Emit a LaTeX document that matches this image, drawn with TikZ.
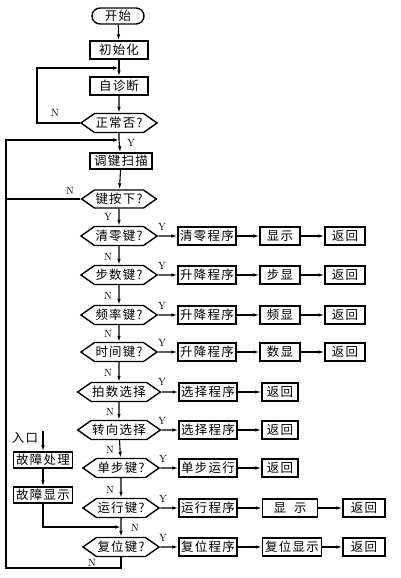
\documentclass[tikz,border=0pt]{standalone}
\usepackage{fontspec}
\newfontfamily\cjk[LetterSpace=10]{Noto Sans CJK SC}
\usetikzlibrary{shapes.symbols,shapes.misc,arrows.meta}

\tikzset{
  >={Latex[length=6bp,width=3.5bp]},
  line/.style={line width=1.1bp},
  box/.style={draw,line width=1.4bp,minimum width=58bp,minimum height=18bp,inner sep=1bp,
    font=\cjk\fontsize{12.5}{12.5}\selectfont},
  ask/.style={box,signal,signal to=west and east,signal pointer angle=70,
    minimum width=73bp,minimum height=19bp},
  term/.style={box,rounded rectangle,minimum width=54bp,minimum height=16bp},
  yn/.style={font=\fontsize{10.5}{10.5}\selectfont,inner sep=0pt},
  word/.style={font=\cjk\fontsize{12.5}{12.5}\selectfont,inner sep=0pt}
}

\begin{document}
\begin{tikzpicture}[x=1bp,y=-1bp]
  \useasboundingbox (0,0) rectangle (400,578);

  % main column
  \node[term] (start) at (118,16) {开始};
  \node[box] (init) at (119,50) {初始化};
  \coordinate (j1) at (119,68);
  \coordinate (nl) at (37,68);
  \node[box] (diag) at (119,86) {自诊断};
  \node[ask] (ok) at (119,123) {正常否?};
  \coordinate (j2) at (119,140);
  \coordinate (bt) at (6,140);
  \coordinate (bb) at (6,568);
  \node[box,minimum width=62bp,minimum height=16bp] (scan) at (121,161) {调键扫描};
  \node[ask,minimum height=18bp] (press) at (119,199) {键按下?};

  \node[ask] (kclr) at (119,236) {清零键?};
  \node[ask] (kstp) at (119,275) {步数键?};
  \node[ask] (kfrq) at (119,315) {频率键?};
  \node[ask] (ktim) at (119,352) {时间键?};
  \node[ask,minimum width=76bp] (kbeat) at (119,392) {拍数选择};
  \node[ask,minimum width=76bp] (kdir) at (119,430) {转向选择};
  \node[ask,minimum width=71bp] (ksgl) at (121,468) {单步键?};
  \node[ask,minimum width=71bp] (krun) at (121,508) {运行键?};
  \node[ask,minimum width=71bp] (krst) at (121,547) {复位键?};
  \coordinate (j3) at (121,527);

  % right columns
  \node[box] (pclr) at (207,236) {清零程序};
  \node[box,minimum width=40bp] (dclr) at (280,236) {显示};
  \node[box,minimum width=40bp] (rclr) at (345,236) {返回};
  \node[box] (pstp) at (207,275) {升降程序};
  \node[box,minimum width=40bp] (dstp) at (280,275) {步显};
  \node[box,minimum width=40bp] (rstp) at (345,275) {返回};
  \node[box] (pfrq) at (207,315) {升降程序};
  \node[box,minimum width=40bp] (dfrq) at (280,315) {频显};
  \node[box,minimum width=40bp] (rfrq) at (345,315) {返回};
  \node[box] (ptim) at (207,352) {升降程序};
  \node[box,minimum width=40bp] (dtim) at (280,352) {数显};
  \node[box,minimum width=40bp] (rtim) at (345,352) {返回};
  \node[box] (pbeat) at (208,392) {选择程序};
  \node[box,minimum width=36bp] (rbeat) at (280,392) {返回};
  \node[box] (pdir) at (208,430) {选择程序};
  \node[box,minimum width=36bp] (rdir) at (280,430) {返回};
  \node[box] (psgl) at (208,468) {单步运行};
  \node[box,minimum width=36bp] (rsgl) at (280,468) {返回};
  \node[box] (prun) at (208,508) {运行程序};
  \node[box,minimum width=55bp] (drun) at (290,508) {显\hspace{8bp}示};
  \node[box,minimum width=42bp] (rrun) at (364,508) {返回};
  \node[box] (prst) at (208,547) {复位程序};
  \node[box,minimum width=59bp] (drst) at (292,547) {复位显示};
  \node[box,minimum width=42bp] (rrst) at (364,547) {返回};

  % fault entry
  \node[word] (entry) at (25,438) {入口};
  \coordinate (ein) at (43,431);
  \node[box,minimum width=59bp,minimum height=16bp] (fproc) at (43,460) {故障处理};
  \node[box,minimum width=59bp,minimum height=16bp] (fdisp) at (43,495) {故障显示};

  % connectors
  \draw[line,->] (start) -- (init);
  \draw[line] (init) -- (j1);
  \draw[line,->] (j1) -- (diag);
  \draw[line,->] (diag) -- (ok);
  \draw[line,->] (ok.west) -| (nl) -- (j1);
  \draw[line] (ok) -- (j2);
  \draw[line,->] (j2) -- (scan);
  \draw[line,->] (scan) -- (press);
  \draw[line] (press.west) -- (press.west -| bt);
  \draw[line,->] (press) -- (kclr);
  \draw[line,->] (kclr) -- (kstp);
  \draw[line,->] (kstp) -- (kfrq);
  \draw[line,->] (kfrq) -- (ktim);
  \draw[line,->] (ktim) -- (kbeat);
  \draw[line,->] (kbeat) -- (kdir);
  \draw[line,->] (kdir) -- (ksgl);
  \draw[line,->] (ksgl) -- (krun);
  \draw[line] (krun) -- (j3);
  \draw[line,->] (j3) -- (krst);
  \draw[line,->] (krst.south) |- (bb) -- (bt) -- (j2);

  \draw[line,->] (kclr) -- (pclr);
  \draw[line,->] (pclr) -- (dclr);
  \draw[line,->] (dclr) -- (rclr);
  \draw[line,->] (kstp) -- (pstp);
  \draw[line,->] (pstp) -- (dstp);
  \draw[line,->] (dstp) -- (rstp);
  \draw[line,->] (kfrq) -- (pfrq);
  \draw[line,->] (pfrq) -- (dfrq);
  \draw[line,->] (dfrq) -- (rfrq);
  \draw[line,->] (ktim) -- (ptim);
  \draw[line,->] (ptim) -- (dtim);
  \draw[line,->] (dtim) -- (rtim);
  \draw[line,->] (kbeat) -- (pbeat);
  \draw[line,->] (pbeat) -- (rbeat);
  \draw[line,->] (kdir) -- (pdir);
  \draw[line,->] (pdir) -- (rdir);
  \draw[line,->] (ksgl) -- (psgl);
  \draw[line,->] (psgl) -- (rsgl);
  \draw[line,->] (krun) -- (prun);
  \draw[line,->] (prun) -- (drun);
  \draw[line,->] (drun) -- (rrun);
  \draw[line,->] (krst) -- (prst);
  \draw[line,->] (prst) -- (drst);
  \draw[line,->] (drst) -- (rrst);

  \draw[line,->] (ein) -- (fproc);
  \draw[line,->] (fproc) -- (fdisp);
  \draw[line,->] (fdisp.south) |- (j3);

  % Y / N labels
  \node[yn] (n1) at (55,113) {N};
  \node[yn] (y1) at (131,143) {Y};
  \node[yn] (n2) at (70,191) {N};
  \node[yn] (y2) at (108,217) {Y};
  \node[yn] (y3) at (162,227) {Y};
  \node[yn] (n3) at (108,257) {N};
  \node[yn] (y4) at (162,266) {Y};
  \node[yn] (n4) at (108,296) {N};
  \node[yn] (y5) at (162,306) {Y};
  \node[yn] (n5) at (108,334) {N};
  \node[yn] (y6) at (162,343) {Y};
  \node[yn] (n6) at (108,373) {N};
  \node[yn] (y7) at (162,382) {Y};
  \node[yn] (n7) at (110,412) {N};
  \node[yn] (y8) at (162,421) {Y};
  \node[yn] (n8) at (110,450) {N};
  \node[yn] (y9) at (163,459) {Y};
  \node[yn] (n9) at (110,490) {N};
  \node[yn] (y10) at (163,499) {Y};
  \node[yn] (n10) at (135,528) {N};
  \node[yn] (y11) at (163,538) {Y};
  \node[yn] (n11) at (92,563) {N};
\end{tikzpicture}
\end{document}
